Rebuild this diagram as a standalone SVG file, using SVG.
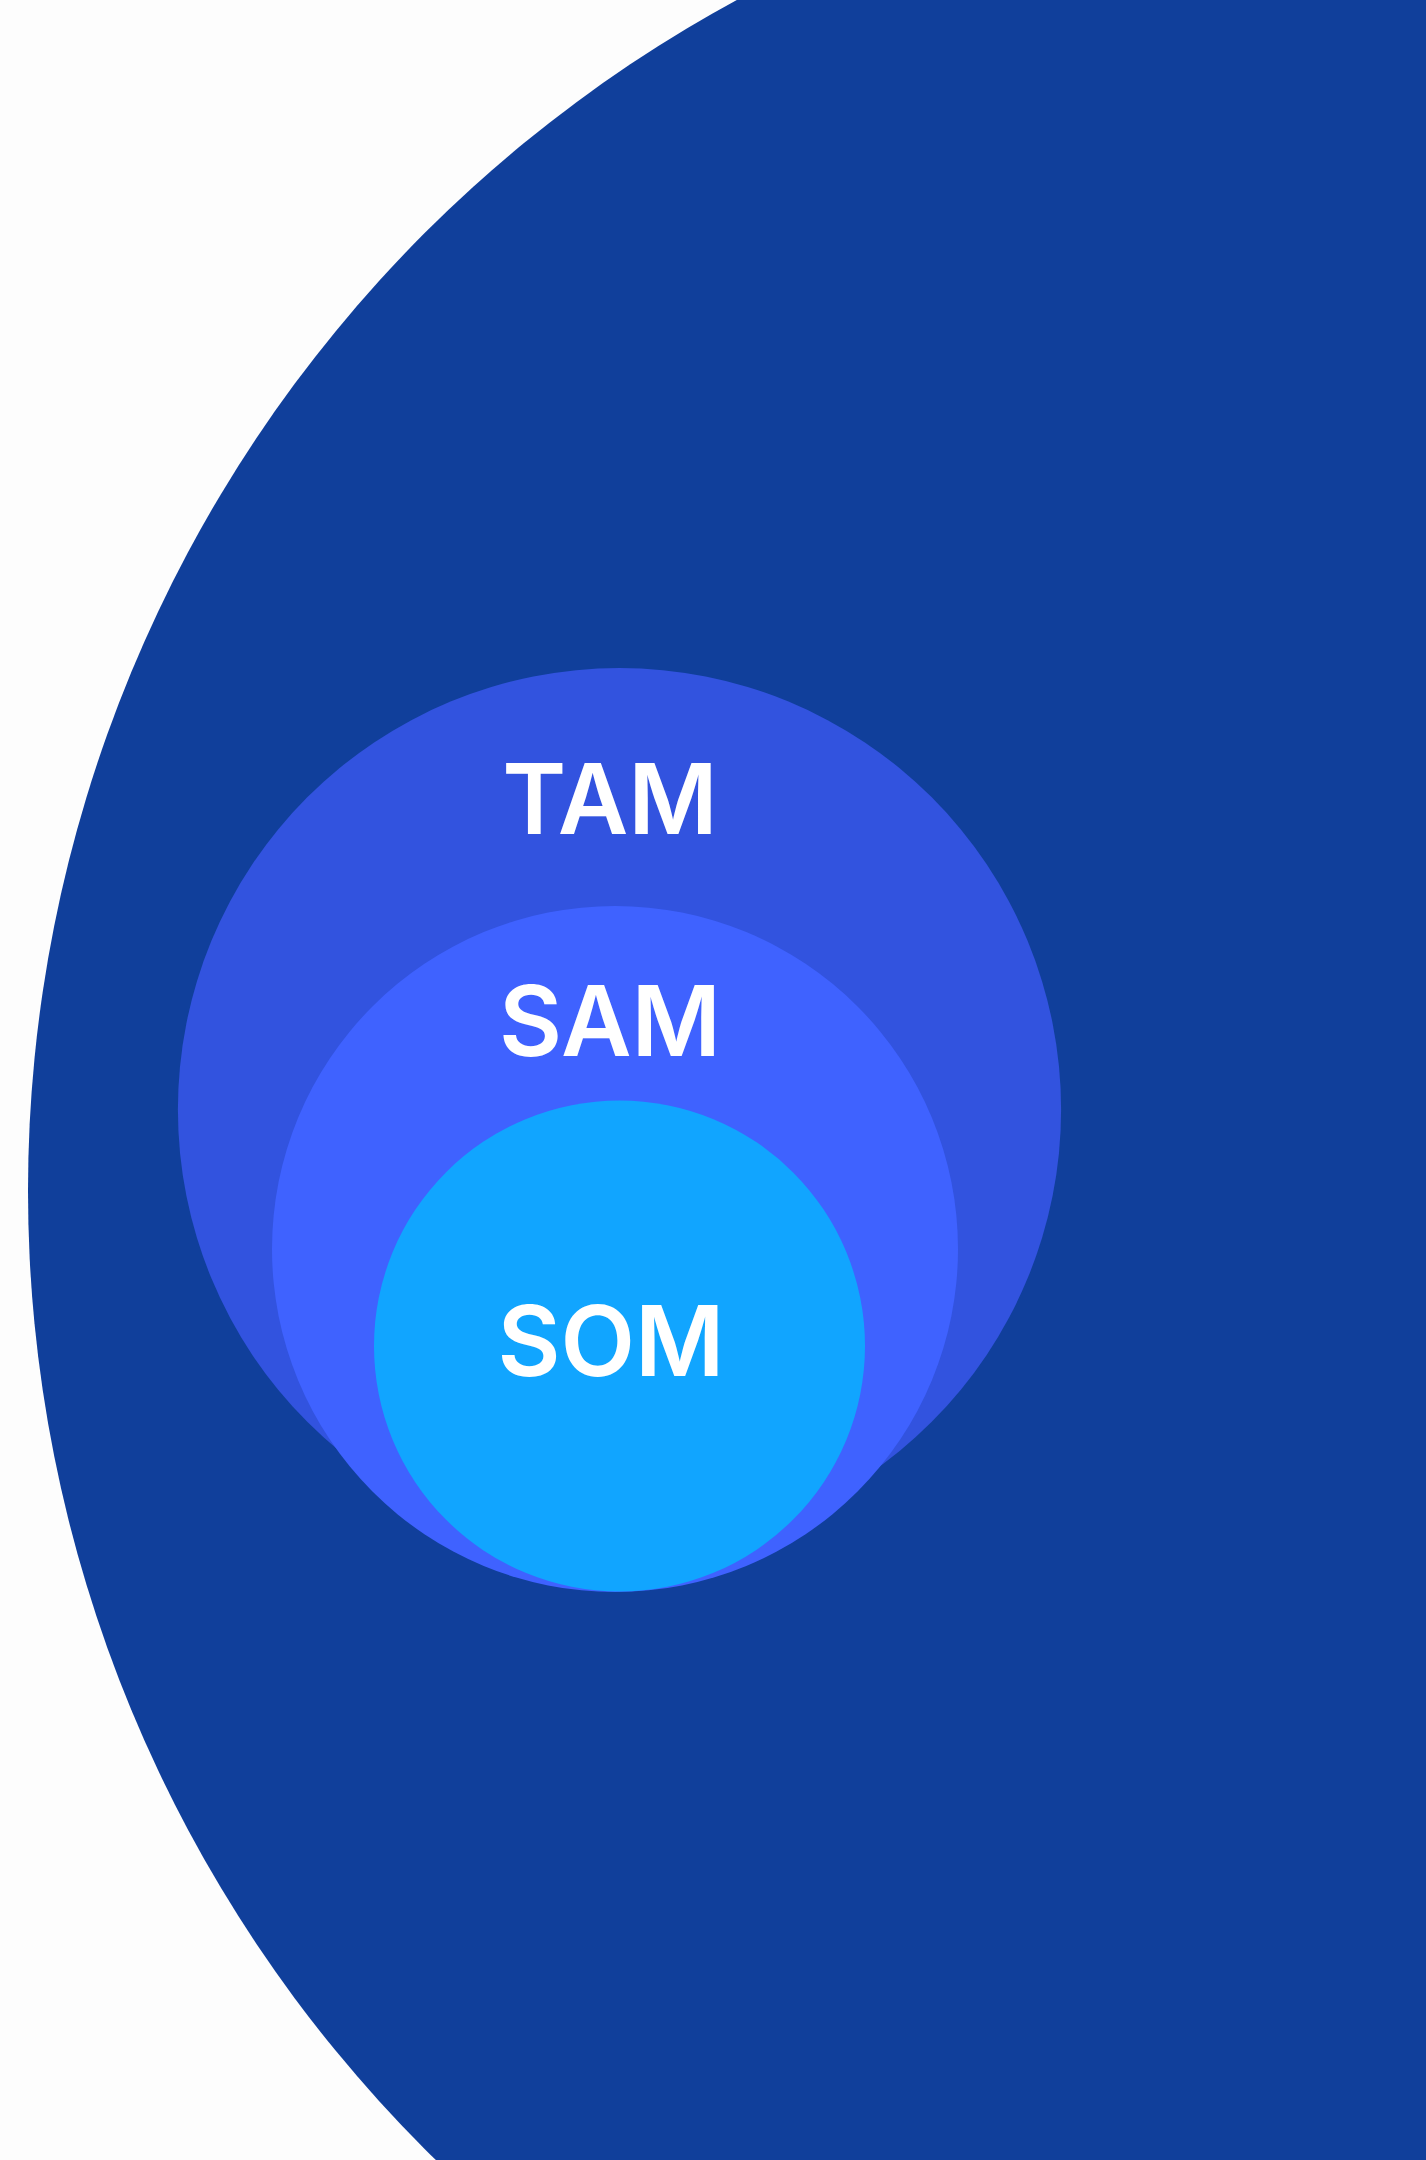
<svg xmlns="http://www.w3.org/2000/svg" width="1426" height="2160" viewBox="0 0 1426 2160">
  <style>
    .lbl { font-family: Inter, "Liberation Sans", Arial, sans-serif; font-weight: 600; font-size: 97px; fill: #FFFFFF; text-anchor: middle; }
  </style>
  <rect x="0" y="0" width="1426" height="2160" fill="#FDFDFD"/>
  <g id="outer">
    <circle cx="1383" cy="1191" r="1355" fill="#103F9B"/>
  </g>
  <g id="tam">
    <circle cx="619.5" cy="1109.6" r="441.6" fill="#3253DF"/>
    <text class="lbl" x="610" y="834">TAM</text>
  </g>
  <g id="sam">
    <circle cx="615" cy="1249" r="343" fill="#3F62FF"/>
    <text class="lbl" x="610" y="1056">SAM</text>
  </g>
  <g id="som">
    <circle cx="619.5" cy="1346" r="245.5" fill="#11A5FF"/>
    <text class="lbl" x="611" y="1376">SOM</text>
  </g>
  <g id="connectors"/>
</svg>
